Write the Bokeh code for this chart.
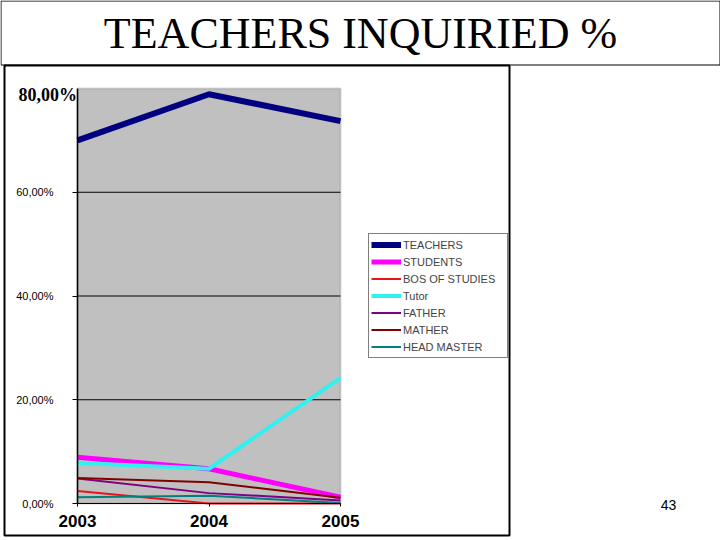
from bokeh.plotting import figure
from bokeh.models import (FixedTicker, Legend, LegendItem, Label, BoxAnnotation, Range1d, LinearAxis)
from bokeh.embed import file_html
from bokeh.resources import INLINE

years = [2003, 2004, 2005]
series_names = ["TEACHERS", "STUDENTS", "BOS OF STUDIES", "Tutor", "FATHER", "MATHER", "HEAD MASTER"]
teachers = [0.700, 0.789, 0.737]
students = [0.089, 0.067, 0.012]
bos_of_studies = [0.024, 0.000, 0.000]
tutor = [0.078, 0.067, 0.242]
father = [0.048, 0.020, 0.006]
mather = [0.049, 0.041, 0.011]
head_master = [0.012, 0.015, 0.001]
y_ticks = [0.0, 0.2, 0.4, 0.6]
y_tick_labels = ["0,00%", "20,00%", "40,00%", "60,00%"]
y_max = 0.8
top_label = "80,00%"
title_text = "TEACHERS INQUIRIED %"
page_number = "43"

values = [teachers, students, bos_of_studies, tutor, father, mather, head_master]
colors = ["#000080", "#FF00FF", "#E8141C", "#33F0F0", "#800080", "#800000", "#008080"]
widths = [6, 5, 2, 4, 2, 2, 2]

W, H = 720, 540
FL, FR, FT, FB = 77, 340, 88, 503   # plot-area edges in figure pixels
x0, x1 = years[0], years[-1]
xs = (FR - FL) / (x1 - x0)
ys = (FB - FT) / y_max

p = figure(width=W, height=H, output_backend="svg", toolbar_location=None,
           x_range=Range1d(x0 - FL / xs, x1 + (W - FR) / xs),
           y_range=Range1d(-(H - FB) / ys, y_max + FT / ys),
           x_axis_location=None, y_axis_location=None,
           min_border=0)
p.background_fill_color = "white"
p.border_fill_color = "white"
p.outline_line_color = None
p.xgrid.grid_line_color = None
p.ygrid.grid_line_color = None

# gray plot area
p.add_layout(BoxAnnotation(left=x0, right=x1, bottom=0, top=y_max, level="underlay",
                           fill_color="#C0C0C0", fill_alpha=1,
                           line_color="#808080", line_width=2))

# horizontal gridlines
gy = y_ticks[1:]
p.segment(x0=[x0] * len(gy), x1=[x1] * len(gy), y0=gy, y1=gy, line_color="black", line_width=1)

# y axis
yax = LinearAxis(fixed_location=x0, bounds=(0, y_max))
yax.ticker = FixedTicker(ticks=y_ticks)
yax.major_label_overrides = {t: l for t, l in zip(y_ticks, y_tick_labels)}
yax.major_label_text_font = "Liberation Sans"
yax.major_label_text_font_size = "11px"
yax.major_label_text_color = "black"
yax.major_tick_out = 5
yax.major_tick_in = 0
yax.minor_tick_out = 0
yax.minor_tick_in = 0
yax.major_label_standoff = 19
yax.axis_line_color = "black"
yax.axis_line_width = 1.5
p.add_layout(yax, "left")

# x axis
xax = LinearAxis(fixed_location=0, bounds=(x0, x1))
xax.ticker = FixedTicker(ticks=years)
xax.major_label_overrides = {y: str(y) for y in years}
xax.major_label_text_font = "Liberation Sans"
xax.major_label_text_font_style = "bold"
xax.major_label_text_font_size = "17px"
xax.major_label_text_color = "black"
xax.major_tick_out = 3
xax.major_tick_in = 0
xax.minor_tick_out = 0
xax.minor_tick_in = 0
xax.major_label_standoff = 8
xax.axis_line_color = "black"
p.add_layout(xax, "below")

items = []
for name, vals, c, w in zip(series_names, values, colors, widths):
    r = p.line(years, vals, line_color=c, line_width=w)
    items.append(LegendItem(label=name, renderers=[r]))

legend = Legend(items=items, location=(368, H - 358),
                label_text_font="Liberation Sans", label_text_font_size="11px",
                label_height=17, glyph_height=17, glyph_width=30, spacing=0,
                label_width=102,
                padding=2, margin=0, label_standoff=2,
                border_line_color="black", border_line_width=1,
                background_fill_color="white", background_fill_alpha=1)
p.add_layout(legend, "center")

# 80,00% label
p.add_layout(Label(x=18, y=H - 94, x_units="screen", y_units="screen",
                   text=top_label, text_font="Liberation Serif", text_font_style="bold",
                   text_font_size="18px", text_baseline="middle", text_align="left",
                   text_color="black"))

# title
p.add_layout(Label(x=360, y=H - 33, x_units="screen", y_units="screen",
                   text=title_text, text_font="Liberation Serif",
                   text_font_size="44px", text_baseline="middle", text_align="center",
                   text_color="black"))

# page number
p.add_layout(Label(x=668, y=H - 504, x_units="screen", y_units="screen",
                   text=page_number, text_font="Liberation Sans",
                   text_font_size="14px", text_baseline="middle", text_align="center",
                   text_color="black"))

# decorative boxes
def sbox(l, t, r, b, lw):
    return BoxAnnotation(left=l, right=r, top=H - t, bottom=H - b,
                         left_units="screen", right_units="screen",
                         top_units="screen", bottom_units="screen",
                         fill_alpha=0, line_color="black", line_width=lw, line_alpha=1)

p.add_layout(sbox(0.5, 0.5, 719.5, 64.5, 1))
p.add_layout(sbox(4, 65, 509, 535, 2))

open("out.html", "w").write(file_html(p, INLINE))
